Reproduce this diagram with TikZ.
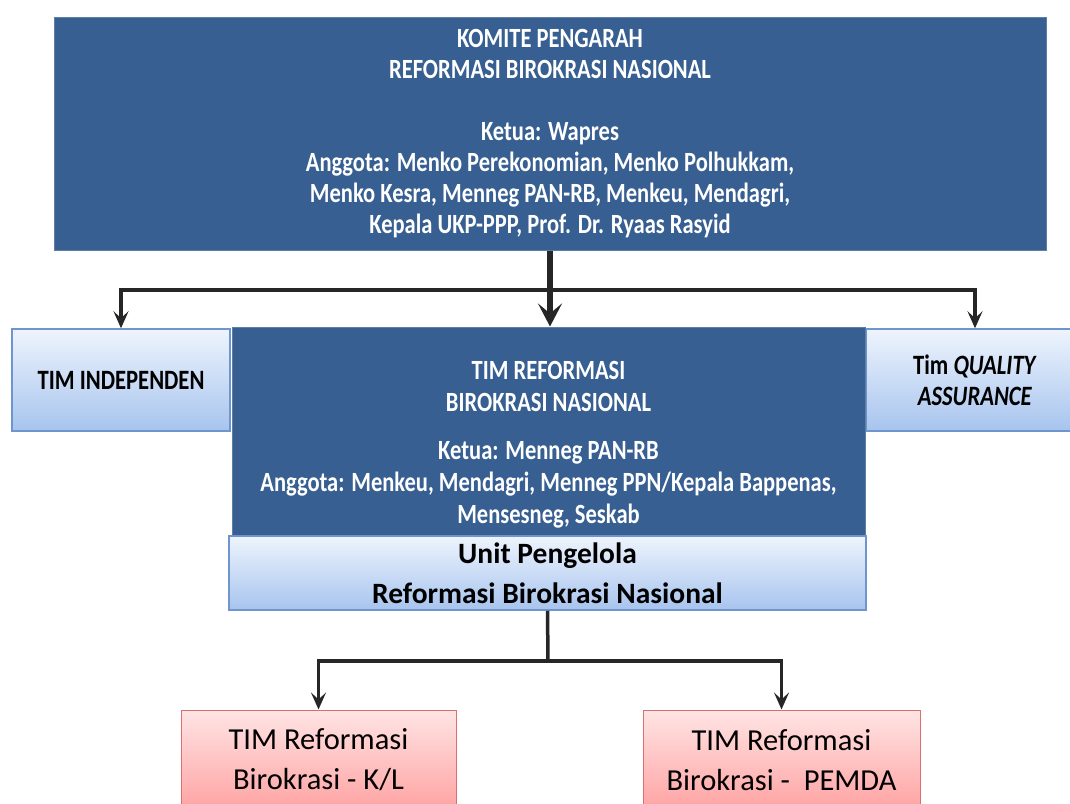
\documentclass[tikz,border=0pt]{standalone}
\usepackage{fontspec}
\setmainfont{Carlito}
\newfontfamily\condfont{Carlito}[FakeStretch=0.81]
\usetikzlibrary{arrows.meta}
\definecolor{dkblue}{HTML}{375F91}
\definecolor{ltbtop}{HTML}{EEF4FD}
\definecolor{ltbbot}{HTML}{A7C4EE}
\definecolor{ltbdraw}{HTML}{6F95CF}
\definecolor{pktop}{HTML}{FFE4E4}
\definecolor{pkbot}{HTML}{FF9C9C}
\definecolor{pkdraw}{HTML}{D87070}
\tikzset{
  darkbox/.style={draw=dkblue!80!white, line width=1pt, fill=dkblue, inner sep=0pt},
  lightbox/.style={draw=ltbdraw, line width=1.5pt, top color=ltbtop, bottom color=ltbbot, inner sep=0pt},
  pinkbox/.style={draw=pkdraw, line width=1pt, top color=pktop, bottom color=pkbot, inner sep=0pt},
  whitetxt/.style={text=white, font=\condfont\bfseries\fontsize{27.8}{31}\selectfont, align=center, inner sep=0pt},
  blacktxt/.style={text=black, font=\condfont\bfseries\fontsize{28}{31}\selectfont, align=center, inner sep=0pt},
  bigtxt/.style={text=black, font=\bfseries\fontsize{29.5}{40}\selectfont, align=center, inner sep=0pt},
  pinktxt/.style={text=black, font=\fontsize{30.5}{40}\selectfont, align=center, inner sep=0pt},
  conn/.style={line width=3.5pt, draw=black!85},
  arr/.style={conn, -{Stealth[length=17pt,width=15pt,inset=7pt]}},
  bigarr/.style={conn, line width=5.5pt, -{Stealth[length=23pt,width=24pt,inset=10pt]}}
}
\begin{document}
\begin{tikzpicture}[x=1pt,y=-1pt]
\useasboundingbox (0,0) rectangle (1070,803);
\fill[white] (0,0) rectangle (1070,803);
% boxes
\node[darkbox, minimum width=992pt, minimum height=233pt] (komite) at (550,133.5) {};
\node[lightbox, minimum width=218pt, minimum height=102pt] (indep) at (121,380) {};
\node[lightbox, minimum width=218pt, minimum height=102pt] (qa) at (975,380) {};
\node[darkbox, minimum width=633pt, minimum height=208pt] (tim) at (548.5,431) {};
\node[lightbox, minimum width=637pt, minimum height=74pt] (unit) at (547.5,573) {};
\node[pinkbox, minimum width=275pt, minimum height=110pt] (kl) at (318.5,765) {};
\node[pinkbox, minimum width=277pt, minimum height=110pt] (pemda) at (781.5,765) {};
% texts
\node[whitetxt] (komitetxt) at (550,134) {KOMITE PENGARAH\\REFORMASI BIROKRASI NASIONAL\\[31pt]Ketua: Wapres\\Anggota: Menko Perekonomian, Menko Polhukkam,\\Menko Kesra, Menneg PAN-RB, Menkeu, Mendagri,\\Kepala UKP-PPP, Prof. Dr. Ryaas Rasyid};
\node[whitetxt, font=\condfont\bfseries\fontsize{27.8}{32}\selectfont] (timtxt) at (548.5,445) {TIM REFORMASI\\BIROKRASI NASIONAL\\[16pt]Ketua: Menneg PAN-RB\\Anggota: Menkeu, Mendagri, Menneg PPN/Kepala Bappenas,\\Mensesneg, Seskab};
\node[blacktxt] (indeptxt) at (121,380) {TIM INDEPENDEN};
\node[blacktxt] (qatxt) at (975,380) {Tim \textit{QUALITY}\\\textit{ASSURANCE}};
\node[bigtxt] (unittxt) at (547.5,573) {Unit Pengelola\\Reformasi Birokrasi Nasional};
\node[pinktxt] (kltxt) at (318.5,760) {TIM Reformasi\\Birokrasi - K/L};
\node[pinktxt] (pemdatxt) at (781.5,760) {TIM Reformasi\\Birokrasi -\ \ PEMDA};
% connectors
\coordinate (bar1) at (550,290);
\coordinate (bar2) at (548,661);
\draw[bigarr] (komite.south) -- (komite.south |- tim.north);
\draw[arr] (bar1) -| (indep.north);
\draw[arr] (bar1) -| (qa.north);
\draw[conn] (unit.south) -- (bar2);
\draw[arr] (bar2) -| (kl.north);
\draw[arr] (bar2) -| (pemda.north);
\end{tikzpicture}
\end{document}
